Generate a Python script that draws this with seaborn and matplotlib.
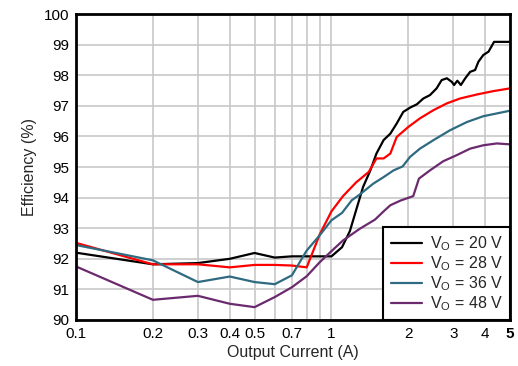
import matplotlib
matplotlib.use("Agg")
import matplotlib.pyplot as plt
import seaborn as sns
import pandas as pd
from matplotlib.ticker import FixedLocator, FixedFormatter, NullLocator

# Efficiency vs. output current for four output voltages
i_20 = [0.1, 0.2, 0.3, 0.4, 0.5, 0.6, 0.7, 0.8, 0.9, 1.0, 1.1, 1.18, 1.25, 1.33, 1.42,
        1.5, 1.6, 1.7, 1.8, 1.91, 2.03, 2.16, 2.29, 2.43, 2.58, 2.70, 2.83, 2.96, 3.02,
        3.11, 3.21, 3.34, 3.49, 3.65, 3.76, 3.93, 4.12, 4.33, 5.0]
eff_20 = [92.2, 91.82, 91.86, 92.0, 92.19, 92.04, 92.08, 92.08, 92.08, 92.08, 92.38, 92.9,
          93.6, 94.35, 94.89, 95.44, 95.88, 96.09, 96.42, 96.8, 96.94, 97.05, 97.24, 97.35,
          97.57, 97.84, 97.9, 97.78, 97.68, 97.82, 97.68, 97.9, 98.11, 98.17, 98.44,
          98.66, 98.77, 99.09, 99.09]

i_28 = [0.1, 0.2, 0.3, 0.4, 0.5, 0.6, 0.7, 0.8, 0.9, 1.0, 1.11, 1.25, 1.4, 1.5, 1.6,
        1.7, 1.8, 2.0, 2.22, 2.51, 2.83, 3.19, 3.71, 4.3, 5.0]
eff_28 = [92.52, 91.82, 91.82, 91.72, 91.8, 91.8, 91.78, 91.72, 92.8, 93.55, 94.05, 94.5,
          94.84, 95.28, 95.28, 95.44, 95.98, 96.31, 96.59, 96.86, 97.08, 97.24, 97.37,
          97.48, 97.57]

i_36 = [0.1, 0.2, 0.3, 0.4, 0.5, 0.6, 0.7, 0.8, 0.9, 1.0, 1.1, 1.2, 1.29, 1.46, 1.6,
        1.75, 1.9, 2.03, 2.22, 2.51, 2.91, 3.39, 3.93, 5.0]
eff_36 = [92.45, 91.95, 91.24, 91.42, 91.24, 91.17, 91.46, 92.27, 92.77, 93.26, 93.5,
          93.91, 94.1, 94.46, 94.67, 94.89, 95.02, 95.33, 95.6, 95.88, 96.2, 96.47, 96.66,
          96.84]

i_48 = [0.1, 0.2, 0.3, 0.4, 0.5, 0.6, 0.7, 0.8, 0.9, 1.0, 1.11, 1.29, 1.48, 1.6, 1.7,
        1.86, 2.09, 2.2, 2.43, 2.74, 3.08, 3.49, 3.93, 4.44, 5.0]
eff_48 = [91.75, 90.66, 90.79, 90.53, 90.42, 90.75, 91.07, 91.43, 91.89, 92.25, 92.6,
          92.98, 93.28, 93.55, 93.75, 93.9, 94.05, 94.62, 94.89, 95.19, 95.38, 95.6,
          95.71, 95.77, 95.74]

series_labels = [r"V$_\mathregular{O}$ = 20 V", r"V$_\mathregular{O}$ = 28 V",
                 r"V$_\mathregular{O}$ = 36 V", r"V$_\mathregular{O}$ = 48 V"]
series_colors = ["#000000", "#ff0000", "#2e6a80", "#6b2a6e"]

x_ticks = [0.1, 0.2, 0.3, 0.4, 0.5, 0.6, 0.7, 0.8, 0.9, 1, 2, 3, 4, 5]
x_tick_labels = ["0.1", "0.2", "0.3", "0.4", "0.5", "", "0.7", "", "", "1", "2", "3", "4", "5"]
y_ticks = list(range(90, 101))

frames = []
for lab, xs, ys in zip(series_labels, [i_20, i_28, i_36, i_48],
                       [eff_20, eff_28, eff_36, eff_48]):
    frames.append(pd.DataFrame({"current": xs, "eff": ys, "series": lab}))
df = pd.concat(frames, ignore_index=True)

sns.set_theme(style="white")
plt.rcParams["font.family"] = ["Liberation Sans", "DejaVu Sans"]
plt.rcParams["mathtext.fontset"] = "custom"
plt.rcParams["mathtext.rm"] = "Liberation Sans"

fig = plt.figure(figsize=(5.18, 3.66), dpi=100)
ax = fig.add_axes([0.1467, 0.1257, 0.8379, 0.836])

sns.lineplot(data=df, x="current", y="eff", hue="series", palette=series_colors,
             hue_order=series_labels, linewidth=1.6, sort=False, estimator=None, ax=ax)

ax.set_xscale("log")
ax.set_xlim(0.1, 5)
ax.set_ylim(90, 100)
ax.xaxis.set_major_locator(FixedLocator(x_ticks))
ax.xaxis.set_major_formatter(FixedFormatter(x_tick_labels))
ax.xaxis.set_minor_locator(NullLocator())
ax.set_yticks(y_ticks)
ax.tick_params(axis="both", length=0, labelsize=11, colors="black", pad=5)
for lbl in ax.get_xticklabels():
    if lbl.get_text() == "5":
        lbl.set_fontweight("bold")

ax.grid(True, which="major", color="#c8c8c8", linewidth=1.2)
ax.set_axisbelow(True)
for sp in ax.spines.values():
    sp.set_color("black")
    sp.set_linewidth(2)

ax.set_xlabel("Output Current (A)", fontsize=11.5, labelpad=3)
ax.set_ylabel("Efficiency (%)", fontsize=11.5, labelpad=5)

leg = ax.legend(loc="lower right", fontsize=11.5, frameon=True, fancybox=False,
                borderaxespad=0, handlelength=1.95, handletextpad=0.5,
                labelspacing=0.08, borderpad=0.45)
leg.get_frame().set_edgecolor("black")
leg.get_frame().set_linewidth(1.5)
leg.get_frame().set_alpha(1)

fig.savefig("out.png", dpi=100)
